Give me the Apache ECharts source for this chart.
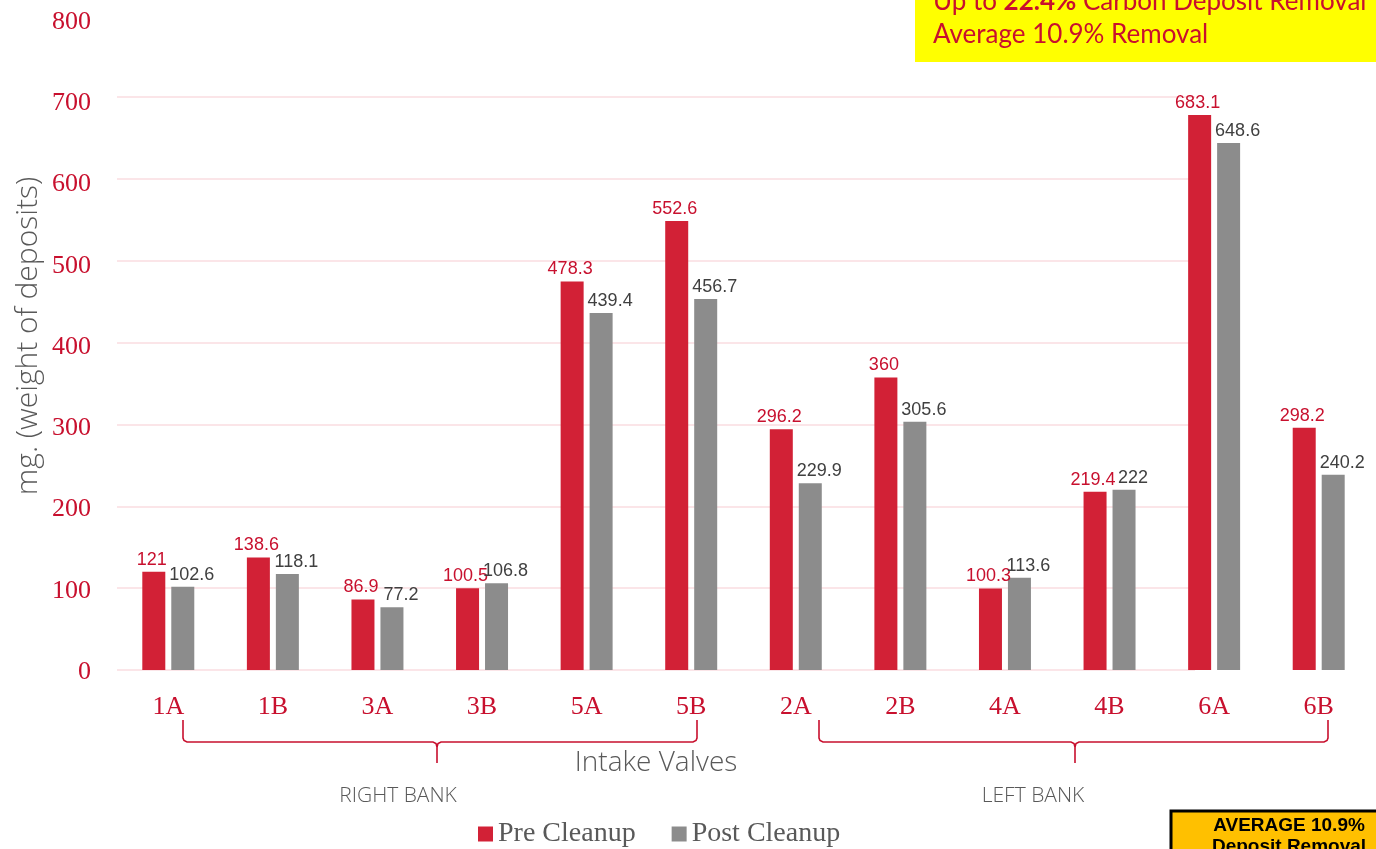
<!DOCTYPE html>
<html>
<head>
<meta charset="utf-8">
<script src="https://cdn.jsdelivr.net/npm/echarts@6/dist/echarts.min.js"></script>
<style>
html,body{margin:0;padding:0;background:#fff;}
#c{width:1376px;height:849px;}
</style>
</head>
<body>
<div id="c"></div>
<script>
const categories = ['1A','1B','3A','3B','5A','5B','2A','2B','4A','4B','6A','6B'];
const preCleanup = [121, 138.6, 86.9, 100.5, 478.3, 552.6, 296.2, 360, 100.3, 219.4, 683.1, 298.2];
const postCleanup = [102.6, 118.1, 77.2, 106.8, 439.4, 456.7, 229.9, 305.6, 113.6, 222, 648.6, 240.2];
const yTicks = [0, 100, 200, 300, 400, 500, 600, 700, 800];
const seriesNames = ['Pre Cleanup', 'Post Cleanup'];

const RED = '#D22136';
const RED_TXT = '#C8102E';
const GRAY = '#8C8C8C';

const chart = echarts.init(document.getElementById('c'));
const serif = 'Liberation Serif';
const sans = 'Liberation Sans';

function brace(x1, xm, x2) {
  const st = { stroke: RED_TXT, lineWidth: 1.6, fill: null };
  return [
    { type: 'polyline', shape: { points: [[x1,720],[x1,738],[x1+1,740.5],[x1+4,742],[xm-4,742],[xm-1,743.5],[xm,747],[xm,763]] }, style: st },
    { type: 'polyline', shape: { points: [[xm,747],[xm+1,743.5],[xm+4,742],[x2-4,742],[x2-1,740.5],[x2,738],[x2,720]] }, style: st }
  ];
}

chart.setOption({
  animation: false,
  backgroundColor: '#fff',
  grid: [
    { left: 116, right: 5, top: 20, bottom: 179 },
    { left: 117, right: 181, top: 97, bottom: 179 },
    { left: 117, right: 5, top: 22, bottom: 177 }
  ],
  xAxis: [
    { type: 'category', gridIndex: 0, data: categories,
      axisLine: { show: false }, axisTick: { show: false },
      axisLabel: { color: RED_TXT, fontFamily: serif, fontSize: 26, margin: 24 } },
    { type: 'category', gridIndex: 1, data: categories, show: false },
    { type: 'category', gridIndex: 2, data: categories, show: false }
  ],
  yAxis: [
    { type: 'value', gridIndex: 0, min: 0, max: 800, interval: 100,
      axisLabel: { show: false }, splitLine: { show: false }, axisLine: { show: false }, axisTick: { show: false } },
    { type: 'value', gridIndex: 1, min: 0, max: 700, interval: 100,
      axisLabel: { show: false }, axisLine: { show: false }, axisTick: { show: false },
      splitLine: { show: true, lineStyle: { color: '#FADCE0', width: 1.5 } } },
    { type: 'value', gridIndex: 2, min: yTicks[0], max: yTicks[yTicks.length-1], interval: 100,
      splitLine: { show: false }, axisLine: { show: false }, axisTick: { show: false },
      axisLabel: { color: RED_TXT, fontFamily: serif, fontSize: 26, margin: 26 } }
  ],
  legend: {
    data: seriesNames, left: 473, top: 815, itemWidth: 15, itemHeight: 15, itemGap: 36,
    icon: 'rect',
    textStyle: { color: '#595959', fontFamily: serif, fontSize: 28 }
  },
  series: [
    { name: seriesNames[0], type: 'bar', xAxisIndex: 0, yAxisIndex: 0, data: preCleanup,
      barWidth: 23, barGap: '26%', itemStyle: { color: RED },
      label: { show: true, position: 'top', distance: 3, offset: [-2, 0], color: RED_TXT, fontFamily: sans, fontSize: 18 } },
    { name: seriesNames[1], type: 'bar', xAxisIndex: 0, yAxisIndex: 0, data: postCleanup,
      barWidth: 23, barGap: '26%', itemStyle: { color: GRAY },
      label: { show: true, position: 'top', distance: 3, offset: [9, 0], color: '#404040', fontFamily: sans, fontSize: 18 } }
  ],
  graphic: [
    ...brace(183, 437, 697),
    ...brace(819, 1075, 1328),
    { type: 'text', x: 28, y: 336, rotation: Math.PI / 2,
      style: { text: 'mg. (weight of deposits)', align: 'center', verticalAlign: 'middle', font: '300 30px "Open Sans"', fill: '#595959' } },
    { type: 'text', x: 656, y: 763,
      style: { text: 'Intake Valves', align: 'center', verticalAlign: 'middle', font: '300 28px "Open Sans"', fill: '#595959' } },
    { type: 'text', x: 398, y: 796,
      style: { text: 'RIGHT BANK', align: 'center', verticalAlign: 'middle', font: '300 21px "Open Sans"', fill: '#595959' } },
    { type: 'text', x: 1033, y: 796,
      style: { text: 'LEFT BANK', align: 'center', verticalAlign: 'middle', font: '300 21px "Open Sans"', fill: '#595959' } },
    { type: 'rect', shape: { x: 915, y: -5, width: 470, height: 67 },
      style: { fill: '#FFFF00' }, z: 10 },
    { type: 'text', x: 933, y: 2, z: 11,
      style: { text: '{n|Up to }{b|22.4%}{n| Carbon Deposit Removal}', verticalAlign: 'middle',
        rich: { n: { fontFamily: 'Lato', fontSize: 26, fill: RED_TXT }, b: { fontFamily: 'Lato', fontSize: 26, fontWeight: 'bold', fill: RED_TXT } } } },
    { type: 'text', x: 933, y: 35, z: 11,
      style: { text: 'Average 10.9% Removal', verticalAlign: 'middle', font: '26px Lato', fill: RED_TXT } },
    { type: 'rect', shape: { x: 1171, y: 811, width: 220, height: 60 },
      style: { fill: '#FFC000', stroke: '#000', lineWidth: 3 }, z: 10 },
    { type: 'text', x: 1289, y: 826, z: 11,
      style: { text: 'AVERAGE 10.9%', align: 'center', verticalAlign: 'middle', font: 'bold 19px "Liberation Sans"', fill: '#000' } },
    { type: 'text', x: 1289, y: 847, z: 11,
      style: { text: 'Deposit Removal', align: 'center', verticalAlign: 'middle', font: 'bold 19px "Liberation Sans"', fill: '#000' } }
  ]
});
</script>
</body>
</html>
